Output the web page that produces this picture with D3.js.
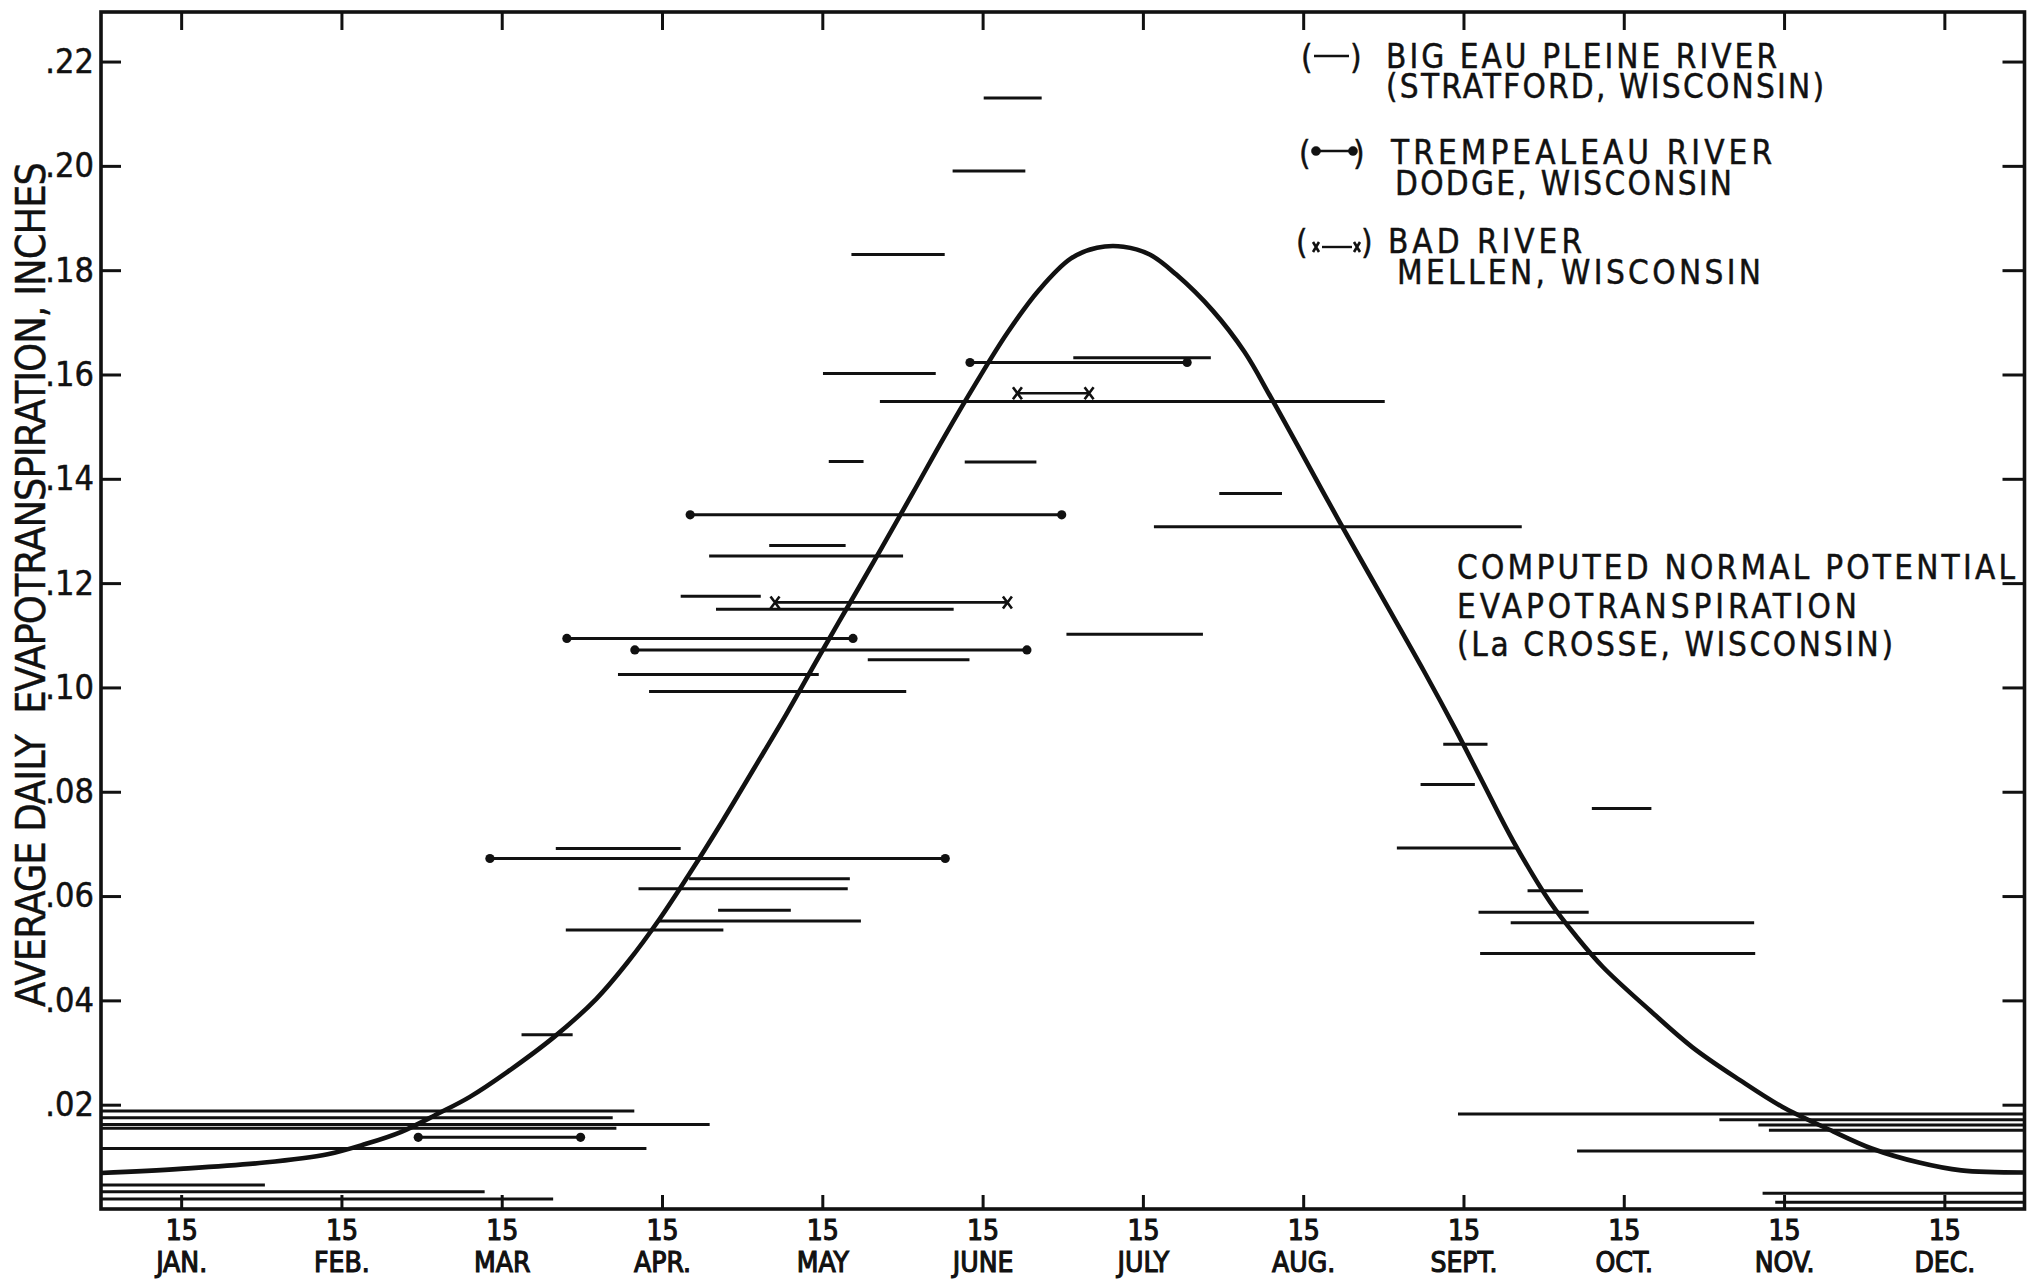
<!DOCTYPE html>
<html>
<head>
<meta charset="utf-8">
<script src="https://cdn.jsdelivr.net/npm/d3@7/dist/d3.min.js"></script>
<style>
  html, body { margin: 0; padding: 0; background: #fff; }
  svg { display: block; }
  text { font-family: 'DejaVu Sans Condensed', 'DejaVu Sans', sans-serif; fill: #111; }
</style>
</head>
<body>
<svg id="chart" width="2037" height="1280"></svg>
<script>
// ---- data (x in day of year, y in inches per day) ----
const monthNames = ['JAN.', 'FEB.', 'MAR', 'APR.', 'MAY', 'JUNE', 'JULY', 'AUG.', 'SEPT.', 'OCT.', 'NOV.', 'DEC.']
const yTickValues = [0.02, 0.04, 0.06, 0.08, 0.10, 0.12, 0.14, 0.16, 0.18, 0.20, 0.22]

// Big Eau Pleine River (Stratford) – plain bars
const bigEauStart = [167.5, 161.6, 142.4, 184.5, 137.0, 147.8, 138.1, 163.9, 212.2, 199.8, 126.8, 115.4, 110.0, 116.7, 183.2, 145.5, 98.1, 104.0, 86.3, 111.6, 102.0, 117.1, 105.6, 88.2, 79.8, 0, 0, 0, 0, 0, 0, 0, 0, 254.7, 250.4, 282.9, 245.9, 270.7, 261.4, 267.5, 261.7, 257.5, 307.1, 314.5, 316.5, 280.1, 315.3, 317.7]
const bigEauEnd = [178.5, 175.4, 160.1, 210.6, 158.4, 243.6, 144.7, 177.5, 224.1, 269.6, 141.3, 152.2, 125.2, 161.8, 209.1, 164.8, 136.2, 152.8, 110.0, 142.1, 141.7, 130.9, 144.2, 118.1, 89.5, 101.2, 97.1, 115.5, 97.8, 103.5, 31.1, 72.8, 85.8, 263.1, 260.7, 294.2, 268.8, 281.2, 282.3, 313.7, 313.9, 365, 365, 365, 365, 365, 365, 365]
const bigEauValue = [0.213, 0.199, 0.183, 0.1632, 0.1602, 0.1548, 0.1433, 0.1432, 0.1372, 0.1308, 0.1272, 0.1252, 0.1175, 0.115, 0.1102, 0.1053, 0.1025, 0.0992, 0.0691, 0.0633, 0.0614, 0.0573, 0.0552, 0.0535, 0.0334, 0.0188, 0.0175, 0.0162, 0.0155, 0.0116, 0.0046, 0.0033, 0.0019, 0.0891, 0.0814, 0.0768, 0.0692, 0.061, 0.0569, 0.0549, 0.049, 0.0182, 0.0171, 0.0161, 0.0151, 0.0111, 0.003, 0.0013]

// Trempealeau River (Dodge) – bars with dots
const trempStart = [164.9, 111.8, 88.4, 101.3, 73.8, 60.2]
const trempEnd = [206.1, 182.3, 142.7, 175.7, 160.2, 91.0]
const trempValue = [0.1623, 0.1331, 0.1094, 0.1072, 0.0672, 0.01375]

// Bad River (Mellen) – bars with crosses
const badStart = [173.9, 127.9]
const badEnd = [187.5, 172.0]
const badValue = [0.1564, 0.1163]

// Computed normal potential evapotranspiration (La Crosse)
const petDay = [0, 15, 31, 43, 50, 57, 64, 70, 77, 86, 94, 100, 106, 112, 118, 124, 130, 136, 142, 148, 154, 160, 166, 172, 178, 184, 189, 194, 199, 204, 211, 217, 222, 227, 235, 243, 251, 257, 262, 268, 275, 280, 285, 294, 302, 311, 319, 328, 336, 345, 353, 365]
const petValue = [0.0069, 0.0077, 0.0089, 0.0105, 0.0124, 0.0148, 0.0183, 0.0215, 0.0262, 0.0330, 0.0403, 0.0474, 0.0556, 0.0648, 0.0745, 0.0846, 0.0948, 0.1055, 0.1160, 0.1265, 0.1372, 0.1480, 0.1583, 0.1680, 0.1762, 0.1822, 0.1843, 0.1845, 0.1830, 0.1792, 0.1722, 0.1643, 0.1556, 0.1465, 0.1318, 0.1175, 0.1032, 0.0920, 0.0822, 0.0705, 0.0588, 0.0522, 0.0464, 0.0380, 0.0310, 0.0247, 0.0196, 0.0152, 0.0116, 0.0089, 0.0074, 0.0070]

const legendNames = ['BIG EAU PLEINE RIVER', 'TREMPEALEAU RIVER', 'BAD RIVER']
const legendPlaces = ['(STRATFORD, WISCONSIN)', 'DODGE, WISCONSIN', 'MELLEN, WISCONSIN']
const curveLabel = ['COMPUTED NORMAL POTENTIAL', 'EVAPOTRANSPIRATION', '(La CROSSE, WISCONSIN)']
const yTitle = 'AVERAGE DAILY  EVAPOTRANSPIRATION, INCHES'

// ---- layout ----
const frame = { left: 101, right: 2024.5, top: 12, bottom: 1209 }
const svg = d3.select('#chart')

const x = d3.scaleLinear().domain([0, 365]).range([frame.left, frame.right])
const y = d3.scaleLinear().domain([0, 0.2295]).range([frame.bottom, frame.top])
const tickDays = monthNames.map((m, i) => (i + 0.5) * 365 / 12)

/**
 * Turns three parallel arrays into a list of bar objects.
 */
function toBars (starts, ends, values) {
  return starts.map((s, i) => ({ start: s, end: ends[i], value: values[i] }))
}

function drawDot (g, cx, cy) {
  g.append('circle').attr('cx', cx).attr('cy', cy).attr('r', 4.6).attr('fill', '#111')
}

function drawCross (g, cx, cy, w, h) {
  g.append('path')
    .attr('d', `M${cx - w},${cy - h}L${cx + w},${cy + h}M${cx + w},${cy - h}L${cx - w},${cy + h}`)
    .attr('stroke', '#111').attr('stroke-width', 2.6).attr('fill', 'none')
}

function styleAxis (g) {
  g.select('.domain').remove()
  g.selectAll('.tick line').attr('stroke', '#111').attr('stroke-width', 3)
  g.attr('font-family', null).attr('font-size', null)
}

// ---- axes ----
const bottomAxis = svg.append('g')
  .attr('transform', `translate(0,${frame.bottom})`)
  .call(d3.axisBottom(x).tickValues(tickDays).tickSizeInner(-14).tickSizeOuter(0)
    .tickPadding(11).tickFormat(() => '15'))
styleAxis(bottomAxis)
bottomAxis.selectAll('.tick text')
  .attr('font-size', 28).attr('stroke', '#111').attr('stroke-width', 1.1).attr('fill', '#111')
bottomAxis.selectAll('.tick').append('text')
  .attr('y', 63).attr('text-anchor', 'middle')
  .attr('font-size', 28).attr('stroke', '#111').attr('stroke-width', 1.1)
  .text((d, i) => monthNames[i])

const topAxis = svg.append('g')
  .attr('transform', `translate(0,${frame.top})`)
  .call(d3.axisTop(x).tickValues(tickDays).tickSizeInner(-18).tickSizeOuter(0).tickFormat(''))
styleAxis(topAxis)

const leftAxis = svg.append('g')
  .attr('transform', `translate(${frame.left},0)`)
  .call(d3.axisLeft(y).tickValues(yTickValues).tickSizeInner(-20).tickSizeOuter(0)
    .tickPadding(7).tickFormat(d => d3.format('.2f')(d).slice(1)))
styleAxis(leftAxis)
leftAxis.selectAll('.tick text').attr('font-size', 34).attr('fill', '#111')
  .attr('stroke', '#111').attr('stroke-width', 0.5)

const rightAxis = svg.append('g')
  .attr('transform', `translate(${frame.right},0)`)
  .call(d3.axisRight(y).tickValues(yTickValues).tickSizeInner(-22).tickSizeOuter(0).tickFormat(''))
styleAxis(rightAxis)

svg.append('rect')
  .attr('x', frame.left).attr('y', frame.top)
  .attr('width', frame.right - frame.left).attr('height', frame.bottom - frame.top)
  .attr('fill', 'none').attr('stroke', '#111').attr('stroke-width', 3.6)

svg.append('text')
  .attr('transform', `translate(45,${1007}) rotate(-90)`)
  .attr('font-size', 41)
  .attr('textLength', 845)
  .attr('stroke', '#111').attr('stroke-width', 0.4)
  .style('white-space', 'pre')
  .text(yTitle)

// ---- bars ----
const marks = svg.append('g')

marks.selectAll('.big-eau')
  .data(toBars(bigEauStart, bigEauEnd, bigEauValue))
  .join('line')
  .attr('class', 'big-eau')
  .attr('x1', d => x(d.start)).attr('x2', d => x(d.end))
  .attr('y1', d => y(d.value)).attr('y2', d => y(d.value))
  .attr('stroke', '#111').attr('stroke-width', 3)

const tremp = toBars(trempStart, trempEnd, trempValue)
marks.selectAll('.tremp')
  .data(tremp)
  .join('line')
  .attr('class', 'tremp')
  .attr('x1', d => x(d.start)).attr('x2', d => x(d.end))
  .attr('y1', d => y(d.value)).attr('y2', d => y(d.value))
  .attr('stroke', '#111').attr('stroke-width', 3)
tremp.forEach(d => {
  drawDot(marks, x(d.start), y(d.value))
  drawDot(marks, x(d.end), y(d.value))
})

const bad = toBars(badStart, badEnd, badValue)
marks.selectAll('.bad')
  .data(bad)
  .join('line')
  .attr('class', 'bad')
  .attr('x1', d => x(d.start)).attr('x2', d => x(d.end))
  .attr('y1', d => y(d.value)).attr('y2', d => y(d.value))
  .attr('stroke', '#111').attr('stroke-width', 2.6)
bad.forEach(d => {
  drawCross(marks, x(d.start), y(d.value), 4.5, 6)
  drawCross(marks, x(d.end), y(d.value), 4.5, 6)
})

// ---- computed curve ----
const pet = petDay.map((d, i) => ({ day: d, value: petValue[i] }))
svg.append('path')
  .datum(pet)
  .attr('fill', 'none')
  .attr('stroke', '#111')
  .attr('stroke-width', 4.6)
  .attr('stroke-linejoin', 'round')
  .attr('d', d3.line().x(d => x(d.day)).y(d => y(d.value)).curve(d3.curveCatmullRom.alpha(0.5)))

// ---- legend ----
const legend = svg.append('g').attr('font-size', 33).attr('stroke', '#111').attr('stroke-width', 0.45)
const nameX = [1386, 1391, 1388]
const nameY = [68, 164, 253]
const nameW = [391, 381, 194]
const placeX = [1386, 1395, 1397]
const placeY = [98, 195, 284]
const placeW = [438, 337, 364]
const symbolY = [56, 151, 247]
const parenL = [1301, 1299, 1296]
const parenR = [1350, 1353, 1361]

legendNames.forEach((name, i) => {
  legend.append('text').attr('x', nameX[i]).attr('y', nameY[i]).attr('textLength', nameW[i]).text(name)
  legend.append('text').attr('x', placeX[i]).attr('y', placeY[i]).attr('textLength', placeW[i]).text(legendPlaces[i])
  legend.append('text').attr('x', parenL[i]).attr('y', nameY[i] + 1).text('(')
  legend.append('text').attr('x', parenR[i]).attr('y', nameY[i] + 1).text(')')
})
legend.append('line').attr('x1', 1314).attr('x2', 1349).attr('y1', symbolY[0]).attr('y2', symbolY[0])
  .attr('stroke', '#111').attr('stroke-width', 2.6)
legend.append('line').attr('x1', 1316).attr('x2', 1353).attr('y1', symbolY[1]).attr('y2', symbolY[1])
  .attr('stroke', '#111').attr('stroke-width', 2.6)
drawDot(legend, 1316, symbolY[1])
drawDot(legend, 1353, symbolY[1])
legend.append('line').attr('x1', 1322).attr('x2', 1352).attr('y1', symbolY[2]).attr('y2', symbolY[2])
  .attr('stroke', '#111').attr('stroke-width', 2.4)
drawCross(legend, 1316, symbolY[2], 3, 5)
drawCross(legend, 1357, symbolY[2], 3, 5)

// ---- curve label ----
const labelY = [579, 618, 656]
const labelW = [558, 400, 436]
curveLabel.forEach((t, i) => {
  svg.append('text').attr('x', 1457).attr('y', labelY[i]).attr('font-size', 33)
    .attr('stroke', '#111').attr('stroke-width', 0.45)
    .attr('textLength', labelW[i]).text(t)
})
</script>
</body>
</html>
